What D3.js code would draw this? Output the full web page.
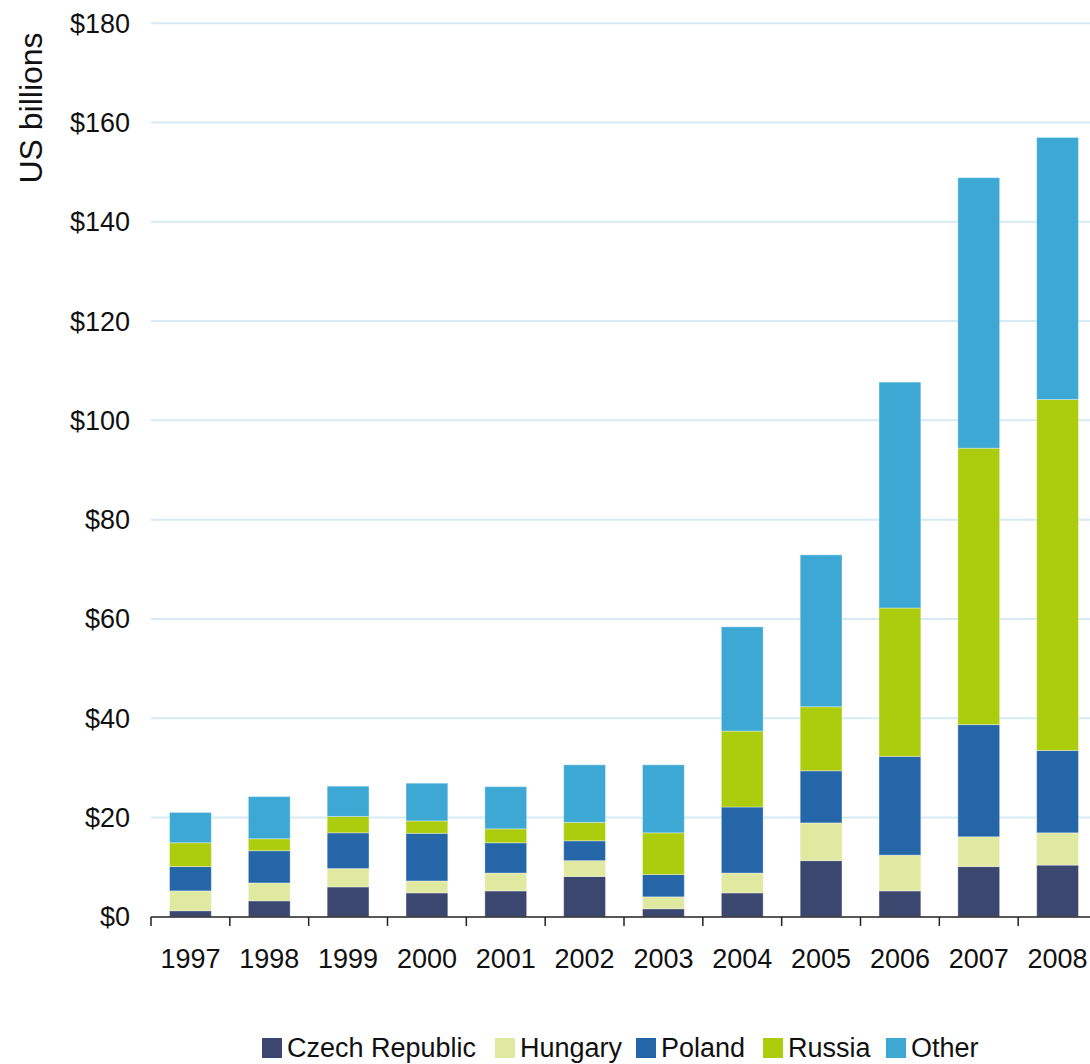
<!DOCTYPE html>
<html>
<head>
<meta charset="utf-8">
<script src="https://cdn.jsdelivr.net/npm/d3@7"></script>
<style>
  body { margin: 0; background: #fff; }
  text { font-family: "Liberation Sans", Arial, sans-serif; fill: #111; }
</style>
</head>
<body>
<script>
// years along the bottom
var years = ["1997", "1998", "1999", "2000", "2001", "2002", "2003", "2004", "2005", "2006", "2007", "2008"];

// US$ billions, stacked bottom to top
var czech   = [1.2, 3.2, 6.0, 4.8, 5.2, 8.1, 1.6, 4.8, 11.3, 5.2, 10.1, 10.4];
var hungary = [4.0, 3.6, 3.7, 2.4, 3.6, 3.2, 2.4, 4.0, 7.6, 7.2, 6.0, 6.5];
var poland  = [4.9, 6.5, 7.2, 9.6, 6.1, 4.0, 4.5, 13.3, 10.5, 19.9, 22.6, 16.6];
var russia  = [4.8, 2.4, 3.3, 2.5, 2.8, 3.7, 8.4, 15.3, 12.9, 29.9, 55.7, 70.7];
var other   = [6.1, 8.5, 6.1, 7.6, 8.5, 11.6, 13.7, 21.0, 30.6, 45.5, 54.5, 52.8];

var seriesNames = ["Czech Republic", "Hungary", "Poland", "Russia", "Other"];
var colors = ["#3c4770", "#dfe99f", "#2566a8", "#accc0e", "#3ea8d5"];
var yTicks = [0, 20, 40, 60, 80, 100, 120, 140, 160, 180];

var width = 1090, height = 1064;

var rows = years.map(function(y, i) {
  return { year: y, "Czech Republic": czech[i], "Hungary": hungary[i],
           "Poland": poland[i], "Russia": russia[i], "Other": other[i] };
});

var svg = d3.select("body").append("svg")
    .attr("width", width)
    .attr("height", height);

var x = d3.scaleBand()
    .domain(years)
    .range([151, 1097])
    .paddingInner(0.47)
    .paddingOuter(0.235);

var y = d3.scaleLinear()
    .domain([0, 180])
    .range([916.7, 23.3]);

// gridlines
svg.append("g").selectAll("line")
    .data(yTicks.filter(function(d) { return d > 0; }))
    .enter().append("line")
    .attr("x1", 151).attr("x2", width)
    .attr("y1", function(d) { return y(d); })
    .attr("y2", function(d) { return y(d); })
    .attr("stroke", "#d6eaf4")
    .attr("stroke-width", 2);

// y labels
svg.append("g").selectAll("text")
    .data(yTicks)
    .enter().append("text")
    .attr("x", 130)
    .attr("y", function(d) { return y(d); })
    .attr("dy", "0.35em")
    .attr("text-anchor", "end")
    .style("font-size", "27px")
    .text(function(d) { return "$" + d; });

svg.append("text")
    .attr("transform", "translate(42,108) rotate(-90)")
    .attr("text-anchor", "middle")
    .style("font-size", "32px")
    .text("US billions");

// stacked bars
var stack = d3.stack().keys(seriesNames);
var layers = stack(rows);

svg.append("g").selectAll("g")
    .data(layers)
    .enter().append("g")
    .attr("fill", function(d, i) { return colors[i]; })
    .selectAll("rect")
    .data(function(d) { return d; })
    .enter().append("rect")
    .attr("x", function(d) { return x(d.data.year); })
    .attr("width", x.bandwidth())
    .attr("y", function(d) { return y(d[1]); })
    .attr("height", function(d) { return y(d[0]) - y(d[1]); })
    .attr("stroke", "#ffffff")
    .attr("stroke-opacity", 0.35)
    .attr("stroke-width", 1);

// x axis: baseline and ticks between the categories
var step = x.step();
var edges = years.map(function(d) { return x(d) - (step - x.bandwidth()) / 2; });
edges.push(edges[edges.length - 1] + step);

var xAxis = svg.append("g");
xAxis.append("line")
    .attr("x1", 151).attr("x2", width)
    .attr("y1", 917).attr("y2", 917)
    .attr("stroke", "#222")
    .attr("stroke-width", 1.5);

xAxis.selectAll("line.tick")
    .data(edges)
    .enter().append("line")
    .attr("class", "tick")
    .attr("x1", function(d) { return d; })
    .attr("x2", function(d) { return d; })
    .attr("y1", 917).attr("y2", 926)
    .attr("stroke", "#222")
    .attr("stroke-width", 1.5);

xAxis.selectAll("text")
    .data(years)
    .enter().append("text")
    .attr("x", function(d) { return x(d) + x.bandwidth() / 2; })
    .attr("y", 968)
    .attr("text-anchor", "middle")
    .style("font-size", "27px")
    .text(function(d) { return d; });

// legend
var legendX = [262, 495, 636, 763, 886];
var legend = svg.append("g").selectAll("g")
    .data(seriesNames)
    .enter().append("g")
    .attr("transform", function(d, i) { return "translate(" + legendX[i] + ",1038)"; });

legend.append("rect")
    .attr("width", 20).attr("height", 20)
    .attr("fill", function(d, i) { return colors[i]; });

legend.append("text")
    .attr("x", 25)
    .attr("y", 19)
    .style("font-size", "27px")
    .text(function(d) { return d; });
</script>
</body>
</html>
